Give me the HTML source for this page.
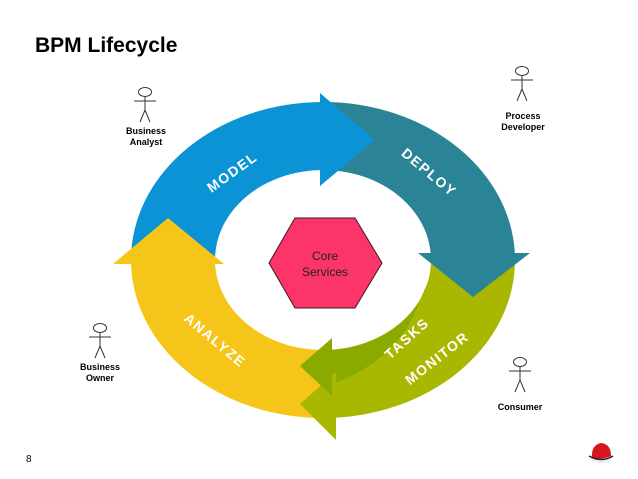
<!DOCTYPE html>
<html><head><style>
body{margin:0;background:#fff;}
svg{display:block;}
text{font-family:"Liberation Sans",sans-serif;}
</style></head><body>
<svg width="638" height="479" viewBox="0 0 638 479">
<defs>
<g id="fig" stroke="#333" stroke-width="1" fill="none">
<ellipse cx="0" cy="0" rx="6.5" ry="4.5" fill="#fff"/>
<line x1="0" y1="4.5" x2="0" y2="18"/>
<line x1="-11" y1="9" x2="11" y2="9"/>
<line x1="0" y1="18" x2="-5" y2="30"/>
<line x1="0" y1="18" x2="5" y2="30"/>
</g>
</defs>
<text x="35" y="52" font-size="21" font-weight="bold" fill="#000">BPM Lifecycle</text>
<text x="26" y="462" font-size="10" fill="#000">8</text>

<!-- ring segments: center 323,260 outer 192x158 inner 108x90 -->
<!-- blue: left to top -->
<path d="M131,260 A192,158 0 0 1 323,102 L323,170 A108,90 0 0 0 215,260 Z" fill="#0b93d6"/>
<!-- teal: top to right -->
<path d="M322,102 A192,158 0 0 1 515,260 L431,260 A108,90 0 0 0 322,170 Z" fill="#2b8496"/>
<!-- olive: right to bottom -->
<path d="M515,259 A192,158 0 0 1 323,418 L323,350 A108,90 0 0 0 431,259 Z" fill="#a9b700"/>
<!-- yellow: bottom to left -->
<path d="M324,418 A192,158 0 0 1 131,260 L215,260 A108,90 0 0 0 324,350 Z" fill="#f6c519"/>
<!-- tasks inner darker band -->
<path d="M420,300 A150,124 0 0 1 332,384 L332,350 A108,90 0 0 0 428,282 Z" fill="#8aaa00"/>
<!-- olive head -->
<polygon points="336,372 300,404 336,440" fill="#a9b700"/>
<!-- tasks head -->
<polygon points="332,338 300,366 332,396" fill="#8aaa00"/>
<!-- yellow head -->
<polygon points="113,264 168,218 224,264" fill="#f6c519"/>
<!-- blue head -->
<polygon points="320,93 375,140 320,186" fill="#0b93d6"/>
<!-- teal head -->
<polygon points="418,253 473,297 530,253" fill="#2b8496"/>
<rect x="0" y="418" width="638" height="30" fill="none"/>

<g fill="#fff" font-weight="bold" font-size="14" letter-spacing="1.5" text-anchor="middle">
<text transform="translate(235,176) rotate(-36)">MODEL</text>
<text transform="translate(426,176) rotate(40)">DEPLOY</text>
<text transform="translate(212,344) rotate(40)">ANALYZE</text>
<text transform="translate(410,342) rotate(-42)">TASKS</text>
<text transform="translate(440,362) rotate(-38)">MONITOR</text>
</g>

<polygon points="269,263 295,218 355,218 382,263 355,308 295,308" fill="#fb3568" stroke="#3a1a22" stroke-width="1"/>
<text x="325" y="260" font-size="12" text-anchor="middle" fill="#222">Core</text>
<text x="325" y="276" font-size="12" text-anchor="middle" fill="#222">Services</text>

<use href="#fig" x="145" y="92"/>
<text x="146" y="134" font-size="9" font-weight="bold" text-anchor="middle">Business</text>
<text x="146" y="145" font-size="9" font-weight="bold" text-anchor="middle">Analyst</text>
<use href="#fig" x="522" y="71"/>
<text x="523" y="119" font-size="9" font-weight="bold" text-anchor="middle">Process</text>
<text x="523" y="130" font-size="9" font-weight="bold" text-anchor="middle">Developer</text>
<use href="#fig" x="100" y="328"/>
<text x="100" y="370" font-size="9" font-weight="bold" text-anchor="middle">Business</text>
<text x="100" y="381" font-size="9" font-weight="bold" text-anchor="middle">Owner</text>
<use href="#fig" x="520" y="362"/>
<text x="520" y="410" font-size="9" font-weight="bold" text-anchor="middle">Consumer</text>

<!-- red hat -->
<ellipse cx="601" cy="458" rx="11" ry="5" fill="#eee"/>
<path d="M592,458 Q591,445 601,443 Q611,444 611,456 Q602,460 592,458 Z" fill="#d8141c"/>
<path d="M589,456 Q601,463 613,456" stroke="#222" stroke-width="1.5" fill="none"/>
</svg>
</body></html>
